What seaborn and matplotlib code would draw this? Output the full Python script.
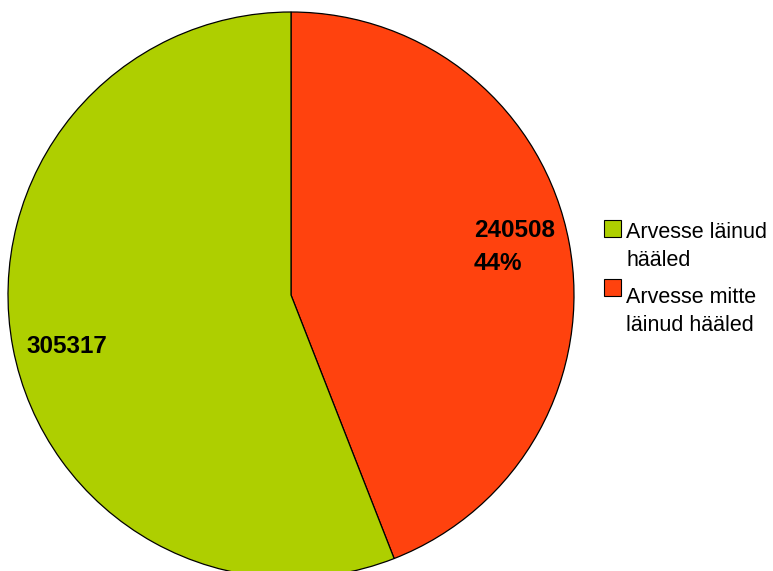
import matplotlib
matplotlib.use("Agg")
import matplotlib.pyplot as plt
from matplotlib.patches import Rectangle
import seaborn as sns

# andmed
labels = ["Arvesse mitte\nläinud hääled", "Arvesse läinud\nhääled"]
values = [240508, 305317]
colors = ["#ff420e", "#aecf00"]

sns.set_style("white")
plt.rcParams['font.family'] = ['Liberation Sans', 'DejaVu Sans']
plt.rcParams['text.color'] = 'black'
palette = sns.color_palette(colors)

W, H = 773, 571
fig = plt.figure(figsize=(W / 100, H / 100), dpi=100)
ax = fig.add_axes([0, 0, 1, 1])

# pirukas pikslikoordinaatides
cx, cy, r = 291, H - 295, 283
wedges, _ = ax.pie(values, colors=palette, startangle=90, counterclock=False,
                   center=(cx, cy), radius=r,
                   wedgeprops=dict(edgecolor="black", linewidth=0.9))
ax.set_xlim(0, W)
ax.set_ylim(0, H)
ax.set_aspect("equal")
ax.axis("off")

# sildid
total = sum(values)
lbl = dict(fontsize=17.5, fontweight="bold", ha="left", va="baseline", color="black")
ax.text(474, H - 237, f"{values[0]}", **lbl)
ax.text(474, H - 270, f"{values[0] / total:.0%}", **lbl)
ax.text(26, H - 353, f"{values[1]}", **lbl)

# legend (roheline esimesena), käsitsi
# (tekst, värv, ruudu ülaserv, viimase rea baasjoon)
leg_items = [(labels[1], palette[1], 220, 266), (labels[0], palette[0], 279, 331)]
for text, col, top, base in leg_items:
    ax.add_patch(Rectangle((604, H - top - 17), 17, 17, facecolor=col,
                           edgecolor="black", linewidth=0.8, clip_on=False))
    ax.text(626, H - base, text, fontsize=15.5, ha="left", va="baseline",
            linespacing=1.45, color="black", clip_on=False)

plt.savefig("out.png", dpi=100)
